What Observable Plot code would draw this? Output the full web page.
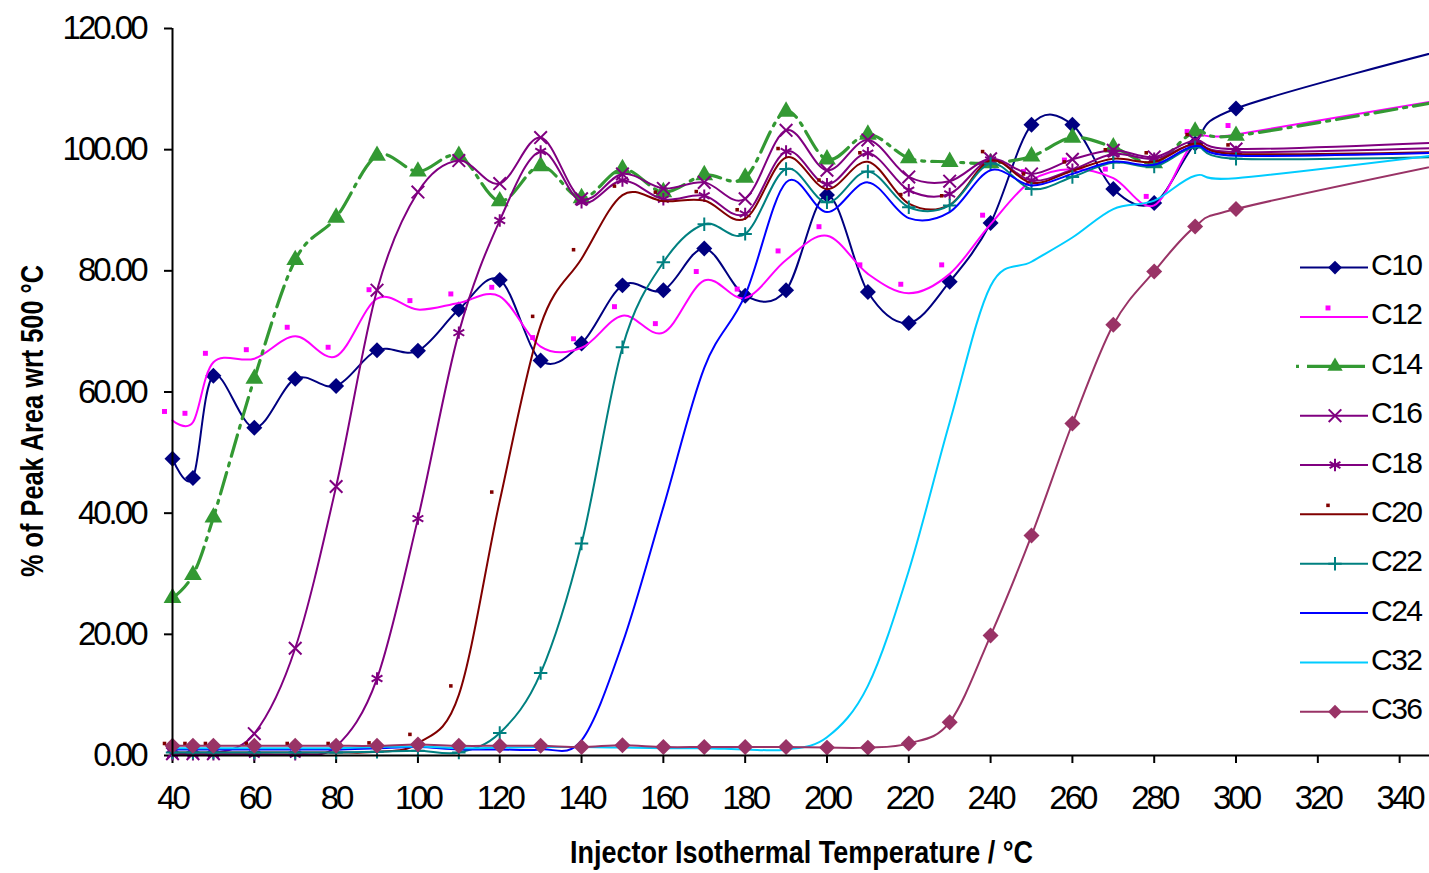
<!DOCTYPE html>
<html><head><meta charset="utf-8">
<script src="https://cdn.jsdelivr.net/npm/d3@7"></script>
<script src="https://cdn.jsdelivr.net/npm/@observablehq/plot@0.6"></script>
<style>
html,body{margin:0;padding:0;background:#fff;overflow:hidden}
#chart{width:1429px;height:873px}
</style></head><body><div id="chart"></div>
<script>
// ---- data ----
const temps = [40,45,50,60,70,80,90,100,110,120,130,140,150,160,170,180,190,200,210,220,230,240,250,260,270,280,290,300,350];
const seriesNames = ["C10","C12","C14","C16","C18","C20","C22","C24","C32","C36"];
const c10 = [49.0,45.8,62.7,54.1,62.2,61.0,66.9,66.8,73.6,78.5,65.2,68.0,77.6,76.8,83.7,75.9,76.8,92.5,76.5,71.4,78.2,87.9,104.1,104.1,93.5,91.2,101.0,106.8,116.3];
const c12 = [55.3,55.0,64.9,65.5,69.2,65.9,75.4,73.6,74.7,75.8,67.5,67.3,72.6,69.8,78.4,75.5,81.8,85.8,79.5,76.3,79.5,87.7,94.9,96.8,95.3,90.8,101.5,102.5,108.2];
const c14 = [26.0,29.8,39.3,62.2,81.8,88.8,99.0,96.4,99.0,91.5,97.3,92.0,96.8,93.0,95.8,95.4,106.3,98.4,102.5,98.6,98.0,97.8,98.9,102.0,100.4,97.8,103.0,102.3,108.0];
const c16 = [0.3,0.3,0.3,3.6,17.7,44.4,76.8,93.0,98.2,94.4,102.0,91.9,96.0,93.6,94.6,91.9,103.2,96.6,101.6,95.5,94.8,98.5,96.0,98.4,99.9,98.8,101.5,100.1,101.2];
const c18 = [0.2,0.2,0.2,0.2,0.2,1.5,12.7,39.1,69.8,88.3,99.7,91.3,94.9,91.8,92.4,89.4,99.7,94.3,99.4,93.3,92.7,98.3,94.9,96.7,99.3,98.5,100.9,99.6,100.3];
const c20 = [0.5,0.5,0.5,0.5,0.5,0.5,0.6,2.0,10.0,42.0,71.0,82.0,92.5,91.5,91.6,88.6,98.7,93.5,98.0,91.1,90.9,98.2,94.5,96.5,98.5,98.0,101.0,99.3,99.6];
const c22 = [0.5,0.5,0.5,0.5,0.5,0.5,0.6,0.8,0.5,3.7,13.6,35.0,67.4,81.4,87.7,86.1,96.8,91.3,96.4,90.5,90.8,97.7,93.5,95.5,97.9,97.2,100.4,98.5,98.8];
const c24 = [1.0,1.0,1.0,1.0,1.0,1.0,1.2,1.4,1.0,1.0,1.0,2.5,18.5,41.0,64.0,76.0,94.6,89.7,94.6,88.7,89.7,96.6,94.1,96.0,98.0,97.5,100.6,99.0,99.5];
const c32 = [1.2,1.2,1.2,1.2,1.2,1.2,1.4,1.5,1.2,1.3,1.4,1.4,1.3,1.2,1.2,1.0,1.0,3.0,11.5,30.5,55.0,77.5,81.5,85.5,90.2,91.6,95.7,95.3,99.2];
const c36 = [1.6,1.6,1.6,1.6,1.6,1.6,1.6,1.8,1.6,1.6,1.6,1.4,1.7,1.4,1.4,1.4,1.4,1.3,1.3,2.0,5.5,19.8,36.3,54.8,71.1,79.9,87.3,90.2,97.5];
const seriesValues = [c10,c12,c14,c16,c18,c20,c22,c24,c32,c36];
const xTicks = [40,60,80,100,120,140,160,180,200,220,240,260,280,300,320,340];
const yTicks = [0,20,40,60,80,100,120];
const xTitle = "Injector Isothermal Temperature / °C";
const yTitle = "% of Peak Area wrt 500 °C";

// ---- styles ----
const styles = {
  C10: {color:"#000080", width:2, symbol:"diamond2", r:7.2, filled:true},
  C12: {color:"#FF00FF", width:2, symbol:"square", r:2.8, filled:true, dx:-8, dy:-9},
  C14: {color:"#339933", width:3.2, dash:"22,7,3,7", symbol:"triangle", r:6.6, filled:true},
  C16: {color:"#800080", width:2, symbol:"times", r:5.8},
  C18: {color:"#800080", width:2, symbol:"asterisk", r:5.9},
  C20: {color:"#800000", width:2, symbol:"square", r:2.0, filled:true, dx:-8, dy:-9},
  C22: {color:"#008080", width:2, symbol:"plus", r:4.4},
  C24: {color:"#0000FF", width:2},
  C32: {color:"#00CCFF", width:2},
  C36: {color:"#993366", width:2, symbol:"diamond2", r:7.2, filled:true}
};
const FONT = "'Liberation Sans', Arial, sans-serif";

const marks = [];
seriesNames.forEach((name, k) => {
  const st = styles[name];
  const data = temps.map((t, i) => ({t, v: seriesValues[k][i], s: name}));
  marks.push(Plot.line(data, {x:"t", y:"v", stroke: st.color, strokeWidth: st.width,
    strokeDasharray: st.dash, curve: "cardinal"}));
  if (st.symbol) {
    const o = {x:"t", y:"v", symbol: st.symbol, r: st.r, dx: st.dx || 0, dy: st.dy || 0};
    if (st.filled) { o.fill = st.color; o.stroke = "none"; }
    else { o.stroke = st.color; o.fill = "none"; o.strokeWidth = 2; }
    marks.push(Plot.dot(data, o));
  }
});

const svg = Plot.plot({
  width: 1429, height: 873,
  marginLeft: 172, marginRight: 0, marginTop: 28, marginBottom: 118,
  x: {domain: [40, 347.3], label: null},
  y: {domain: [0, 120], label: null},
  style: {fontFamily: FONT, fontSize: "33px", color: "black", background: "white", overflow: "hidden"},
  marks: [
    Plot.axisY(yTicks, {tickSize: 8, tickPadding: 19, tickFormat: d => d.toFixed(2), label: null,
      strokeWidth: 2, fontSize: 33}),
    Plot.axisX(xTicks, {tickSize: 8, tickPadding: 22, tickFormat: d => String(d), label: null,
      strokeWidth: 2, fontSize: 33}),
    ...marks,
    Plot.ruleX([40], {strokeWidth: 2, stroke: "black"}),
    Plot.ruleY([0], {strokeWidth: 2, stroke: "black"})
  ]
});
document.getElementById("chart").appendChild(svg);

const sel = d3.select(svg);
sel.selectAll('[aria-label="y-axis tick label"] text, [aria-label="x-axis tick label"] text')
  .style("letter-spacing", "-3px").style("font-size", "33px").style("font-family", FONT);

// axis titles
sel.append("text").attr("x", 801.5).attr("y", 862.7).attr("text-anchor", "middle")
  .attr("font-family", FONT).attr("font-size", 32).attr("font-weight", "bold")
  .attr("textLength", 463).attr("lengthAdjust", "spacingAndGlyphs").attr("fill", "black")
  .text(xTitle);
sel.append("text").attr("transform", "translate(43,421) rotate(-90)").attr("text-anchor", "middle")
  .attr("font-family", FONT).attr("font-size", 32).attr("font-weight", "bold")
  .attr("textLength", 312).attr("lengthAdjust", "spacingAndGlyphs").attr("fill", "black")
  .text(yTitle);

// legend
const symMap = {diamond2: d3.symbolDiamond2, square: d3.symbolSquare, triangle: d3.symbolTriangle,
  times: d3.symbolTimes, asterisk: d3.symbolAsterisk, plus: d3.symbolPlus};
const lg = sel.append("g").attr("text-anchor", "start");
seriesNames.forEach((name, i) => {
  const st = styles[name];
  const y = 267.6 + i * 49.35;
  const g = lg.append("g");
  g.append("line").attr("x1", name === "C14" ? 1296 : 1300).attr("x2", 1368).attr("y1", y).attr("y2", y)
    .attr("stroke", st.color).attr("stroke-width", st.width)
    .attr("stroke-dasharray", name === "C14" ? "3,8,24,8,26,100" : null);
  if (st.symbol) {
    const size = Math.PI * st.r * st.r * (st.filled && !st.dx ? 0.75 : 1);
    const p = g.append("path").attr("d", d3.symbol(symMap[st.symbol], size)())
      .attr("transform", `translate(${1335 + (st.dx ? -7 : 0)},${y + (st.dy ? -9 : 0)})`);
    if (st.filled) p.attr("fill", st.color); else p.attr("fill", "none").attr("stroke", st.color).attr("stroke-width", 2);
  }
  g.append("text").attr("x", 1371).attr("y", y + 7.5).attr("text-anchor", "start")
    .attr("font-family", FONT).attr("font-size", 30)
    .style("letter-spacing", "-1.5px").attr("fill", "black").text(name);
});
</script></body></html>
